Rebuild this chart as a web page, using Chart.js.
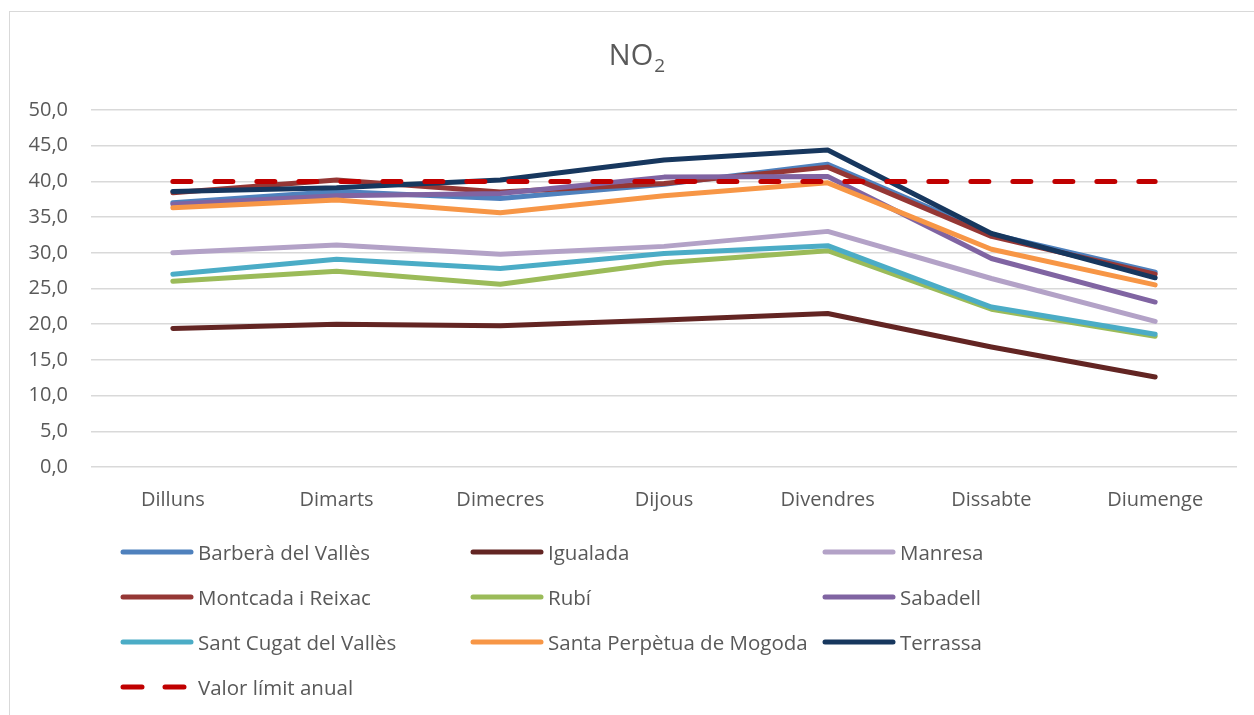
<!DOCTYPE html>
<html>
<head>
<meta charset="utf-8">
<script src="https://cdn.jsdelivr.net/npm/chart.js@4.4.1/dist/chart.umd.min.js"></script>
<style>
  html, body { margin: 0; padding: 0; background: #fff; width: 1254px; height: 715px; overflow: hidden; }
  #frame { position: absolute; left: 9px; top: 11px; width: 1300px; height: 800px; border: 1px solid #d9d9d9; box-sizing: border-box; }
  #wrap { position: absolute; left: 0; top: 0; width: 1254px; height: 715px; }
  #legend { position: absolute; left: 0; top: 0; width: 1254px; height: 715px; pointer-events: none;
            font-family: "Open Sans", sans-serif; font-size: 20.5px; color: #595959; }
  .li { position: absolute; height: 28px; line-height: 28px; white-space: nowrap; }
  .li canvas { position: absolute; left: 0; top: 0; }
  .li span { position: absolute; top: 0; }
</style>
</head>
<body>
<div id="frame"></div>
<div id="wrap"><canvas id="c" width="1254" height="715"></canvas></div>
<div id="legend"></div>
<script>
const categories = ["Dilluns", "Dimarts", "Dimecres", "Dijous", "Divendres", "Dissabte", "Diumenge"];
const seriesNames = ["Barberà del Vallès", "Igualada", "Manresa", "Montcada i Reixac", "Rubí", "Sabadell", "Sant Cugat del Vallès", "Santa Perpètua de Mogoda", "Terrassa", "Valor límit anual"];
const barbera      = [37.0, 38.6, 37.6, 39.6, 42.4, 32.6, 27.3];
const igualada     = [19.4, 20.0, 19.8, 20.6, 21.5, 16.8, 12.6];
const manresa      = [30.0, 31.1, 29.8, 30.9, 33.0, 26.4, 20.4];
const montcada     = [38.4, 40.2, 38.5, 39.7, 42.0, 32.3, 27.0];
const rubi         = [26.0, 27.4, 25.6, 28.6, 30.3, 22.1, 18.3];
const sabadell     = [36.8, 38.0, 38.3, 40.6, 40.7, 29.2, 23.1];
const santCugat    = [27.0, 29.1, 27.8, 29.9, 31.0, 22.4, 18.6];
const santaPerpetua= [36.3, 37.4, 35.6, 38.0, 39.8, 30.5, 25.5];
const terrassa     = [38.6, 39.1, 40.2, 43.0, 44.4, 32.7, 26.5];
const valorLimit   = [40, 40, 40, 40, 40, 40, 40];
const yTicks = [0, 5, 10, 15, 20, 25, 30, 35, 40, 45, 50];

const seriesData = [barbera, igualada, manresa, montcada, rubi, sabadell, santCugat, santaPerpetua, terrassa, valorLimit];
const colors = ["#4F81BD", "#632523", "#B3A2C7", "#953735", "#9BBB59", "#8064A2", "#4BACC6", "#F79646", "#17375E", "#C00000"];

const datasets = seriesData.map((d, i) => ({
  label: seriesNames[i],
  data: d,
  borderColor: colors[i],
  backgroundColor: colors[i],
  borderWidth: 5,
  pointRadius: 0,
  pointHoverRadius: 0,
  tension: 0,
  fill: false,
  borderCapStyle: 'round',
  borderJoinStyle: 'round',
  borderDash: i === 9 ? [18, 24] : [],
  // later series drawn on top, dashed limit on top of all
  order: i === 9 ? 0 : (20 - i)
}));

const titlePlugin = {
  id: 'subTitle',
  afterDraw(chart) {
    const ctx = chart.ctx;
    ctx.save();
    ctx.fillStyle = '#595959';
    ctx.textBaseline = 'alphabetic';
    ctx.font = '29px "Open Sans"';
    const main = 'NO';
    const wMain = ctx.measureText(main).width;
    ctx.font = '19px "Open Sans"';
    const wSub = ctx.measureText('2').width;
    const total = wMain + 1 + wSub;
    const x0 = 637 - total / 2;
    ctx.font = '29px "Open Sans"';
    ctx.fillText(main, x0, 65);
    ctx.font = '19px "Open Sans"';
    ctx.fillText('2', x0 + wMain + 1, 72);
    ctx.restore();
  }
};

const chart = new Chart(document.getElementById('c'), {
  type: 'line',
  data: { labels: categories, datasets },
  options: {
    responsive: false,
    animation: false,
    devicePixelRatio: 1,
    layout: { padding: { top: 110, right: 17, bottom: 0, left: 0 } },
    plugins: { legend: { display: false }, title: { display: false }, tooltip: { enabled: false } },
    scales: {
      x: {
        offset: true,
        grid: { display: false, drawTicks: false },
        border: { display: false },
        ticks: { padding: 21, color: '#595959', font: { family: 'Open Sans', size: 20 }, maxRotation: 0 },
        afterFit(scale) { scale.height = 248; }
      },
      y: {
        min: 0, max: 50,
        afterBuildTicks(scale) { scale.ticks = yTicks.map(v => ({ value: v })); },
        grid: { color: '#d9d9d9', lineWidth: 1.5, drawTicks: false },
        border: { display: false },
        ticks: {
          padding: 23, color: '#595959', font: { family: 'Open Sans', size: 20 },
          callback: v => v.toFixed(1).replace('.', ',')
        },
        afterFit(scale) { scale.width = 91; }
      }
    }
  },
  plugins: [titlePlugin]
});

// HTML legend built from the chart's legend items (3 columns, dataset order)
const legendEl = document.getElementById('legend');
const items = chart.options.plugins.legend.labels.generateLabels(chart)
  .slice().sort((a, b) => a.datasetIndex - b.datasetIndex);
const colX = [120, 470, 822];
const rowY = [552, 597, 642, 687];
items.forEach((it, i) => {
  const col = i % 3, row = Math.floor(i / 3);
  const div = document.createElement('div');
  div.className = 'li';
  div.style.left = colX[col] + 'px';
  div.style.top = (rowY[row] - 14) + 'px';
  const cv = document.createElement('canvas');
  cv.width = 76; cv.height = 28;
  const g = cv.getContext('2d');
  g.strokeStyle = colors[it.datasetIndex];
  g.lineWidth = 5;
  g.lineCap = 'round';
  if (it.datasetIndex === 9) { g.setLineDash([19, 23]); }
  g.beginPath(); g.moveTo(3, 14); g.lineTo(71, 14); g.stroke();
  const sp = document.createElement('span');
  sp.style.left = '78px';
  sp.textContent = it.text;
  div.appendChild(cv); div.appendChild(sp);
  legendEl.appendChild(div);
});
</script>
</body>
</html>
